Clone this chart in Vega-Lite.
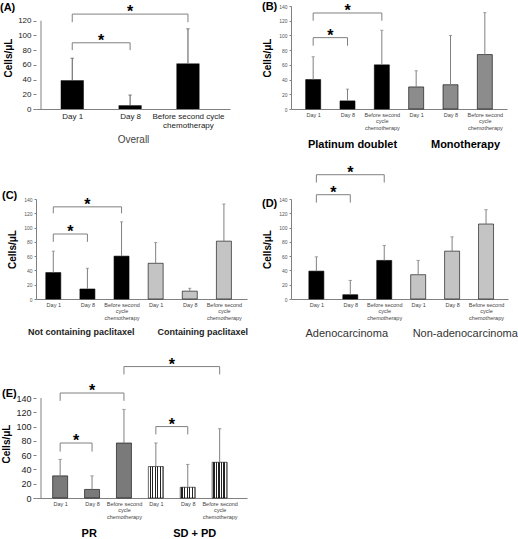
{
  "$schema": "https://vega.github.io/schema/vega-lite/v6.json",
  "padding": {"left": 0, "top": 0, "right": 0, "bottom": 0},
  "background": "white",
  "config": {"view": {"stroke": null}, "font": "Liberation Sans", "axis": {"grid": false}},
  "datasets": {
    "a_bars": [{"x": 1, "v": 39, "e": 69}, {"x": 2, "v": 5, "e": 19}, {"x": 3, "v": 62, "e": 109}],
    "a_br": [{"x1": 1, "x2": 2, "xm": 1.5, "y": 90, "yb": 80}, {"x1": 1, "x2": 3, "xm": 2, "y": 129, "yb": 118}],
    "b_bars": [{"x": 1, "v": 40, "e": 71}, {"x": 2, "v": 11, "e": 27}, {"x": 3, "v": 60, "e": 107}, {"x": 4, "v": 30, "e": 52}, {"x": 5, "v": 33, "e": 100}, {"x": 6, "v": 74, "e": 131}],
    "b_br": [{"x1": 1, "x2": 2, "xm": 1.5, "y": 97, "yb": 86}, {"x1": 1, "x2": 3, "xm": 2, "y": 130.5, "yb": 120}],
    "b_grp": [{"g": "Platinum doublet"}, {"g": "Monotherapy"}],
    "c_bars": [{"x": 1, "v": 37, "e": 67}, {"x": 2, "v": 14, "e": 43}, {"x": 3, "v": 60, "e": 108}, {"x": 4, "v": 50, "e": 79}, {"x": 5, "v": 11, "e": 15}, {"x": 6, "v": 81, "e": 133}],
    "c_br": [{"x1": 1, "x2": 2, "xm": 1.5, "y": 91, "yb": 80}, {"x1": 1, "x2": 3, "xm": 2, "y": 129, "yb": 120}],
    "c_grp": [{"g": "Not containing paclitaxel"}, {"g": "Containing paclitaxel"}],
    "d_bars": [{"x": 1, "v": 39, "e": 59}, {"x": 2, "v": 6, "e": 26}, {"x": 3, "v": 54, "e": 75}, {"x": 4, "v": 34, "e": 54}, {"x": 5, "v": 67, "e": 87}, {"x": 6, "v": 105, "e": 125}],
    "d_br": [{"x1": 1, "x2": 2, "xm": 1.5, "y": 146, "yb": 135}, {"x1": 1, "x2": 3, "xm": 2, "y": 174, "yb": 163}],
    "d_grp": [{"g": "Adenocarcinoma"}, {"g": "Non-adenocarcinoma"}],
    "e_bars": [{"x": 1, "v": 31, "e": 54}, {"x": 2, "v": 12, "e": 31}, {"x": 3, "v": 77, "e": 124}, {"x": 4, "v": 44, "e": 77}, {"x": 5, "v": 15, "e": 47}, {"x": 6, "v": 50, "e": 97}],
    "e_br": [{"x1": 1, "x2": 2, "xm": 1.5, "y": 77, "yb": 65}, {"x1": 1, "x2": 3, "xm": 2, "y": 147, "yb": 136}, {"x1": 4, "x2": 5, "xm": 4.5, "y": 100, "yb": 89}, {"x1": 3, "x2": 6, "xm": 4.5, "y": 184, "yb": 173}],
    "e_grp": [{"g": "PR"}, {"g": "SD + PD"}]
  },
  "columns": 2,
  "bounds": "flush",
  "align": "each",
  "spacing": {"row": 90, "column": 44},
  "concat": [
    {
      "width": 194, "height": 103,
      "title": {"text": "(A)", "anchor": "start", "frame": "group", "dx": -36, "dy": 9, "fontSize": 11, "fontWeight": "bold", "color": "black", "offset": 0},
      "layer": [
        {"data": {"name": "a_bars"}, "mark": {"type": "bar", "orient": "vertical", "size": 23, "color": "black"},
         "encoding": {
           "x": {"field": "x", "type": "quantitative", "scale": {"domain": [0.46, 3.64], "nice": false, "zero": false},
                 "axis": {"values": [1, 2, 3], "labelExpr": "datum.value == 3 ? ['Before second cycle','chemotherapy'] : (datum.value == 1 ? 'Day 1' : 'Day 8')", "ticks": false, "domainColor": "#808080", "labelFontSize": 8, "labelColor": "#222", "labelOverlap": false, "labelFlush": false, "labelBound": false, "labelPadding": 3, "labelBaseline": "top", "labelLineHeight": 9, "title": "Overall", "titleFontSize": 10, "titleFontWeight": "normal", "titleColor": "#444", "titlePadding": 5}},
           "y": {"field": "v", "type": "quantitative", "scale": {"domain": [0, 140], "nice": false},
                 "axis": {"tickCount": 7, "labelExpr": "datum.value > 125 ? '' : datum.label", "tickOpacity": {"condition": {"test": "datum.value > 125", "value": 0}, "value": 1}, "domain": false, "tickSize": 3, "tickColor": "#808080", "labelFontSize": 8, "labelColor": "#222", "labelPadding": 2, "title": "Cells/μL", "titleFontSize": 10, "titleFontWeight": "bold", "titleColor": "black", "titlePadding": 4}}
         }},
        {"data": {"values": [{}]}, "mark": {"type": "rule", "color": "#808080"}, "encoding": {"x": {"datum": 0.46}, "y": {"datum": 0}, "y2": {"datum": 120}}},
        {"data": {"name": "a_bars"}, "mark": {"type": "rule", "color": "#555555", "strokeWidth": 1}, "encoding": {"x": {"field": "x", "type": "quantitative"}, "y": {"field": "v", "type": "quantitative"}, "y2": {"field": "e"}}},
        {"data": {"name": "a_bars"}, "mark": {"type": "point", "shape": "stroke", "size": 12, "stroke": "#555555", "strokeWidth": 1}, "encoding": {"x": {"field": "x", "type": "quantitative"}, "y": {"field": "e", "type": "quantitative"}}},
        {"data": {"name": "a_br"}, "mark": {"type": "rule", "color": "#808080"}, "encoding": {"x": {"field": "x1", "type": "quantitative"}, "x2": {"field": "x2"}, "y": {"field": "y", "type": "quantitative"}}},
        {"data": {"name": "a_br"}, "mark": {"type": "rule", "color": "#808080"}, "encoding": {"x": {"field": "x1", "type": "quantitative"}, "y": {"field": "y", "type": "quantitative"}, "y2": {"field": "yb"}}},
        {"data": {"name": "a_br"}, "mark": {"type": "rule", "color": "#808080"}, "encoding": {"x": {"field": "x2", "type": "quantitative"}, "y": {"field": "y", "type": "quantitative"}, "y2": {"field": "yb"}}},
        {"data": {"name": "a_br"}, "mark": {"type": "text", "text": "*", "fontSize": 16, "fontWeight": "bold", "baseline": "alphabetic", "dy": 3, "color": "black"}, "encoding": {"x": {"field": "xm", "type": "quantitative"}, "y": {"field": "y", "type": "quantitative"}}}
      ]
    },
    {
      "width": 216, "height": 103,
      "title": {"text": "(B)", "anchor": "start", "frame": "group", "dx": -29, "dy": 9, "fontSize": 11, "fontWeight": "bold", "color": "black", "offset": 0},
      "resolve": {"scale": {"x": "independent"}},
      "layer": [
        {"layer": [
          {"data": {"name": "b_bars"}, "mark": {"type": "bar", "orient": "vertical", "size": 15, "stroke": "black", "strokeWidth": 0.6},
           "encoding": {
             "x": {"field": "x", "type": "quantitative", "scale": {"domain": [0.5, 6.5], "nice": false, "zero": false},
                   "axis": {"values": [1, 2, 3, 4, 5, 6], "labelExpr": "datum.value % 3 == 0 ? ['Before second','cycle','chemotherapy'] : (datum.value % 3 == 1 ? 'Day 1' : 'Day 8')", "ticks": false, "domainColor": "#808080", "labelFontSize": 5.5, "labelColor": "#444", "labelOverlap": false, "labelFlush": false, "labelBound": false, "labelPadding": 3, "labelBaseline": "top", "labelLineHeight": 6.5, "title": null}},
             "y": {"field": "v", "type": "quantitative", "scale": {"domain": [0, 140], "nice": false},
                   "axis": {"tickCount": 7, "domainColor": "#808080", "tickSize": 2, "tickColor": "#808080", "labelFontSize": 5, "labelColor": "#555", "labelPadding": 2, "title": "Cells/μL", "titleFontSize": 10, "titleFontWeight": "bold", "titleColor": "black", "titlePadding": 6}},
             "color": {"condition": {"test": "datum.x <= 3", "value": "black"}, "value": "#8c8c8c"}
           }},
          {"data": {"name": "b_bars"}, "mark": {"type": "rule", "color": "#808080", "strokeWidth": 1}, "encoding": {"x": {"field": "x", "type": "quantitative"}, "y": {"field": "v", "type": "quantitative"}, "y2": {"field": "e"}}},
          {"data": {"name": "b_bars"}, "mark": {"type": "point", "shape": "stroke", "size": 10, "stroke": "#808080", "strokeWidth": 1}, "encoding": {"x": {"field": "x", "type": "quantitative"}, "y": {"field": "e", "type": "quantitative"}}},
          {"data": {"name": "b_br"}, "mark": {"type": "rule", "color": "#808080"}, "encoding": {"x": {"field": "x1", "type": "quantitative"}, "x2": {"field": "x2"}, "y": {"field": "y", "type": "quantitative"}}},
          {"data": {"name": "b_br"}, "mark": {"type": "rule", "color": "#808080"}, "encoding": {"x": {"field": "x1", "type": "quantitative"}, "y": {"field": "y", "type": "quantitative"}, "y2": {"field": "yb"}}},
          {"data": {"name": "b_br"}, "mark": {"type": "rule", "color": "#808080"}, "encoding": {"x": {"field": "x2", "type": "quantitative"}, "y": {"field": "y", "type": "quantitative"}, "y2": {"field": "yb"}}},
          {"data": {"name": "b_br"}, "mark": {"type": "text", "text": "*", "fontSize": 16, "fontWeight": "bold", "baseline": "alphabetic", "dy": 3, "color": "black"}, "encoding": {"x": {"field": "xm", "type": "quantitative"}, "y": {"field": "y", "type": "quantitative"}}}
        ]},
        {"data": {"name": "b_grp"}, "mark": {"type": "point", "opacity": 0},
         "encoding": {"x": {"field": "g", "type": "nominal", "sort": null, "axis": {"orient": "bottom", "offset": 29, "domain": false, "ticks": false, "labelAngle": 0, "labelPadding": 0, "labelBaseline": "top", "labelFontSize": 11, "labelFontWeight": "bold", "labelColor": "black", "labelOverlap": false, "labelOffset": {"condition": {"test": "datum.value == 'Monotherapy'", "value": 12}, "value": 7}, "title": null}}}}
      ]
    },
    {
      "width": 211, "height": 100,
      "title": {"text": "(C)", "anchor": "start", "frame": "group", "dx": -34, "dy": 4, "fontSize": 11, "fontWeight": "bold", "color": "black", "offset": 0},
      "resolve": {"scale": {"x": "independent"}},
      "layer": [
        {"layer": [
          {"data": {"name": "c_bars"}, "mark": {"type": "bar", "orient": "vertical", "size": 15, "stroke": "black", "strokeWidth": 0.6},
           "encoding": {
             "x": {"field": "x", "type": "quantitative", "scale": {"domain": [0.64, 6.53], "nice": false, "zero": false},
                   "axis": {"values": [1, 2, 3, 4, 5, 6], "labelExpr": "datum.value % 3 == 0 ? ['Before second','cycle','chemotherapy'] : (datum.value % 3 == 1 ? 'Day 1' : 'Day 8')", "ticks": false, "domainColor": "#808080", "labelFontSize": 5.5, "labelColor": "#444", "labelOverlap": false, "labelFlush": false, "labelBound": false, "labelPadding": 3, "labelBaseline": "top", "labelLineHeight": 6.5, "title": null}},
             "y": {"field": "v", "type": "quantitative", "scale": {"domain": [0, 140], "nice": false},
                   "axis": {"tickCount": 7, "domainColor": "#808080", "tickSize": 2, "tickColor": "#808080", "labelFontSize": 5, "labelColor": "#555", "labelPadding": 2, "title": "Cells/μL", "titleFontSize": 10, "titleFontWeight": "bold", "titleColor": "black", "titlePadding": 6}},
             "color": {"condition": {"test": "datum.x <= 3", "value": "black"}, "value": "#c4c4c4"}
           }},
          {"data": {"name": "c_bars"}, "mark": {"type": "rule", "color": "#808080", "strokeWidth": 1}, "encoding": {"x": {"field": "x", "type": "quantitative"}, "y": {"field": "v", "type": "quantitative"}, "y2": {"field": "e"}}},
          {"data": {"name": "c_bars"}, "mark": {"type": "point", "shape": "stroke", "size": 10, "stroke": "#808080", "strokeWidth": 1}, "encoding": {"x": {"field": "x", "type": "quantitative"}, "y": {"field": "e", "type": "quantitative"}}},
          {"data": {"name": "c_br"}, "mark": {"type": "rule", "color": "#808080"}, "encoding": {"x": {"field": "x1", "type": "quantitative"}, "x2": {"field": "x2"}, "y": {"field": "y", "type": "quantitative"}}},
          {"data": {"name": "c_br"}, "mark": {"type": "rule", "color": "#808080"}, "encoding": {"x": {"field": "x1", "type": "quantitative"}, "y": {"field": "y", "type": "quantitative"}, "y2": {"field": "yb"}}},
          {"data": {"name": "c_br"}, "mark": {"type": "rule", "color": "#808080"}, "encoding": {"x": {"field": "x2", "type": "quantitative"}, "y": {"field": "y", "type": "quantitative"}, "y2": {"field": "yb"}}},
          {"data": {"name": "c_br"}, "mark": {"type": "text", "text": "*", "fontSize": 16, "fontWeight": "bold", "baseline": "alphabetic", "dy": 3, "color": "black"}, "encoding": {"x": {"field": "xm", "type": "quantitative"}, "y": {"field": "y", "type": "quantitative"}}}
        ]},
        {"data": {"name": "c_grp"}, "mark": {"type": "point", "opacity": 0},
         "encoding": {"x": {"field": "g", "type": "nominal", "sort": null, "axis": {"orient": "bottom", "offset": 28, "domain": false, "ticks": false, "labelAngle": 0, "labelPadding": 0, "labelBaseline": "top", "labelFontSize": 9, "labelFontWeight": "bold", "labelColor": "#222", "labelOverlap": false, "labelOffset": {"condition": {"test": "datum.value == 'Containing paclitaxel'", "value": 8}, "value": -8}, "title": null}}}}
      ]
    },
    {
      "width": 217, "height": 100,
      "title": {"text": "(D)", "anchor": "start", "frame": "group", "dx": -29, "dy": 44, "fontSize": 11, "fontWeight": "bold", "color": "black", "offset": 0},
      "resolve": {"scale": {"x": "independent"}},
      "layer": [
        {"layer": [
          {"data": {"name": "d_bars"}, "mark": {"type": "bar", "orient": "vertical", "size": 15, "stroke": "black", "strokeWidth": 0.6},
           "encoding": {
             "x": {"field": "x", "type": "quantitative", "scale": {"domain": [0.4, 6.5], "nice": false, "zero": false},
                   "axis": {"values": [1, 2, 3, 4, 5, 6], "labelExpr": "datum.value % 3 == 0 ? ['Before second','cycle','chemotherapy'] : (datum.value % 3 == 1 ? 'Day 1' : 'Day 8')", "ticks": false, "domainColor": "#808080", "labelFontSize": 5.5, "labelColor": "#444", "labelOverlap": false, "labelFlush": false, "labelBound": false, "labelPadding": 3, "labelBaseline": "top", "labelLineHeight": 6.5, "title": null}},
             "y": {"field": "v", "type": "quantitative", "scale": {"domain": [0, 140], "nice": false},
                   "axis": {"tickCount": 7, "domainColor": "#808080", "tickSize": 2, "tickColor": "#808080", "labelFontSize": 5, "labelColor": "#555", "labelPadding": 2, "title": "Cells/μL", "titleFontSize": 10, "titleFontWeight": "bold", "titleColor": "black", "titlePadding": 6}},
             "color": {"condition": {"test": "datum.x <= 3", "value": "black"}, "value": "#c4c4c4"}
           }},
          {"data": {"name": "d_bars"}, "mark": {"type": "rule", "color": "#808080", "strokeWidth": 1}, "encoding": {"x": {"field": "x", "type": "quantitative"}, "y": {"field": "v", "type": "quantitative"}, "y2": {"field": "e"}}},
          {"data": {"name": "d_bars"}, "mark": {"type": "point", "shape": "stroke", "size": 12, "stroke": "#808080", "strokeWidth": 1}, "encoding": {"x": {"field": "x", "type": "quantitative"}, "y": {"field": "e", "type": "quantitative"}}},
          {"data": {"name": "d_br"}, "mark": {"type": "rule", "color": "#808080"}, "encoding": {"x": {"field": "x1", "type": "quantitative"}, "x2": {"field": "x2"}, "y": {"field": "y", "type": "quantitative"}}},
          {"data": {"name": "d_br"}, "mark": {"type": "rule", "color": "#808080"}, "encoding": {"x": {"field": "x1", "type": "quantitative"}, "y": {"field": "y", "type": "quantitative"}, "y2": {"field": "yb"}}},
          {"data": {"name": "d_br"}, "mark": {"type": "rule", "color": "#808080"}, "encoding": {"x": {"field": "x2", "type": "quantitative"}, "y": {"field": "y", "type": "quantitative"}, "y2": {"field": "yb"}}},
          {"data": {"name": "d_br"}, "mark": {"type": "text", "text": "*", "fontSize": 16, "fontWeight": "bold", "baseline": "alphabetic", "dy": 3, "color": "black"}, "encoding": {"x": {"field": "xm", "type": "quantitative"}, "y": {"field": "y", "type": "quantitative"}}}
        ]},
        {"data": {"name": "d_grp"}, "mark": {"type": "point", "opacity": 0},
         "encoding": {"x": {"field": "g", "type": "nominal", "sort": null, "axis": {"orient": "bottom", "offset": 28, "domain": false, "ticks": false, "labelAngle": 0, "labelPadding": 0, "labelBaseline": "top", "labelFontSize": 11, "labelFontWeight": "normal", "labelColor": "#333", "labelOverlap": false, "labelOffset": {"condition": {"test": "datum.value == 'Non-adenocarcinoma'", "value": 11}, "value": 1}, "title": null}}}}
      ]
    },
    {
      "width": 211, "height": 109,
      "title": {"text": "(E)", "anchor": "start", "frame": "group", "dx": -34, "dy": 42, "fontSize": 11, "fontWeight": "bold", "color": "black", "offset": 0},
      "resolve": {"scale": {"x": "independent"}},
      "layer": [
        {"layer": [
          {"data": {"name": "e_bars"}, "mark": {"type": "bar", "orient": "vertical", "size": 15, "stroke": "black", "strokeWidth": 0.6},
           "encoding": {
             "x": {"field": "x", "type": "quantitative", "scale": {"domain": [0.4, 6.7], "nice": false, "zero": false},
                   "axis": {"values": [1, 2, 3, 4, 5, 6], "labelExpr": "datum.value % 3 == 0 ? ['Before second','cycle','chemotherapy'] : (datum.value % 3 == 1 ? 'Day 1' : 'Day 8')", "ticks": false, "domainColor": "#808080", "labelFontSize": 5.5, "labelColor": "#444", "labelOverlap": false, "labelFlush": false, "labelBound": false, "labelPadding": 3, "labelBaseline": "top", "labelLineHeight": 6.5, "title": null}},
             "y": {"field": "v", "type": "quantitative", "scale": {"domain": [0, 152.6], "nice": false},
                   "axis": {"tickCount": 7, "labelExpr": "datum.value > 145 ? '' : datum.label", "tickOpacity": {"condition": {"test": "datum.value > 145", "value": 0}, "value": 1}, "domain": false, "tickSize": 3, "tickColor": "#808080", "labelFontSize": 9, "labelColor": "#222", "labelPadding": 2, "title": "Cells/μL", "titleFontSize": 10, "titleFontWeight": "bold", "titleColor": "black", "titlePadding": 4}},
             "color": {"condition": {"test": "datum.x <= 3", "value": "#7a7a7a"},
                       "value": {"gradient": "linear", "x1": 0, "y1": 0, "x2": 1, "y2": 0, "stops": [
                         {"offset": 0, "color": "#ffffff"}, {"offset": 0.08, "color": "#ffffff"}, {"offset": 0.08, "color": "#222222"}, {"offset": 0.16, "color": "#222222"},
                         {"offset": 0.16, "color": "#ffffff"}, {"offset": 0.25, "color": "#ffffff"}, {"offset": 0.25, "color": "#222222"}, {"offset": 0.33, "color": "#222222"},
                         {"offset": 0.33, "color": "#ffffff"}, {"offset": 0.42, "color": "#ffffff"}, {"offset": 0.42, "color": "#222222"}, {"offset": 0.5, "color": "#222222"},
                         {"offset": 0.5, "color": "#ffffff"}, {"offset": 0.58, "color": "#ffffff"}, {"offset": 0.58, "color": "#222222"}, {"offset": 0.66, "color": "#222222"},
                         {"offset": 0.66, "color": "#ffffff"}, {"offset": 0.75, "color": "#ffffff"}, {"offset": 0.75, "color": "#222222"}, {"offset": 0.83, "color": "#222222"},
                         {"offset": 0.83, "color": "#ffffff"}, {"offset": 0.9, "color": "#ffffff"}, {"offset": 0.9, "color": "#999999"}, {"offset": 1, "color": "#999999"}]}}
           }},
          {"data": {"values": [{}]}, "mark": {"type": "rule", "color": "#808080"}, "encoding": {"x": {"datum": 0.4}, "y": {"datum": 0}, "y2": {"datum": 140}}},
          {"data": {"name": "e_bars"}, "mark": {"type": "rule", "color": "#808080", "strokeWidth": 1}, "encoding": {"x": {"field": "x", "type": "quantitative"}, "y": {"field": "v", "type": "quantitative"}, "y2": {"field": "e"}}},
          {"data": {"name": "e_bars"}, "mark": {"type": "point", "shape": "stroke", "size": 12, "stroke": "#808080", "strokeWidth": 1}, "encoding": {"x": {"field": "x", "type": "quantitative"}, "y": {"field": "e", "type": "quantitative"}}},
          {"data": {"name": "e_br"}, "mark": {"type": "rule", "color": "#808080"}, "encoding": {"x": {"field": "x1", "type": "quantitative"}, "x2": {"field": "x2"}, "y": {"field": "y", "type": "quantitative"}}},
          {"data": {"name": "e_br"}, "mark": {"type": "rule", "color": "#808080"}, "encoding": {"x": {"field": "x1", "type": "quantitative"}, "y": {"field": "y", "type": "quantitative"}, "y2": {"field": "yb"}}},
          {"data": {"name": "e_br"}, "mark": {"type": "rule", "color": "#808080"}, "encoding": {"x": {"field": "x2", "type": "quantitative"}, "y": {"field": "y", "type": "quantitative"}, "y2": {"field": "yb"}}},
          {"data": {"name": "e_br"}, "mark": {"type": "text", "text": "*", "fontSize": 16, "fontWeight": "bold", "baseline": "alphabetic", "dy": 3, "color": "black"}, "encoding": {"x": {"field": "xm", "type": "quantitative"}, "y": {"field": "y", "type": "quantitative"}}}
        ]},
        {"data": {"name": "e_grp"}, "mark": {"type": "point", "opacity": 0},
         "encoding": {"x": {"field": "g", "type": "nominal", "sort": null, "axis": {"orient": "bottom", "offset": 29, "domain": false, "ticks": false, "labelAngle": 0, "labelPadding": 0, "labelBaseline": "top", "labelFontSize": 11, "labelFontWeight": "bold", "labelColor": "black", "labelOverlap": false, "title": null}}}}
      ]
    }
  ]
}
